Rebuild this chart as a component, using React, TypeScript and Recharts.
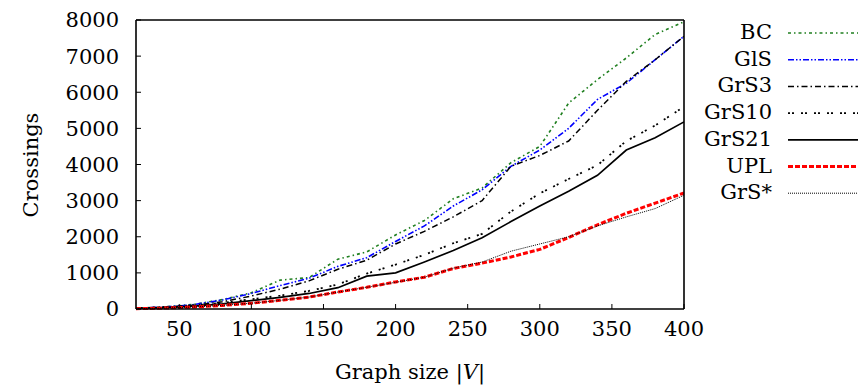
import { LineChart, Line, XAxis, YAxis, Label } from "recharts";

// graph sizes |V| and crossing counts per algorithm
const graphSize = [20, 40, 60, 80, 100, 120, 140, 160, 180, 200, 220, 240, 260, 280, 300, 320, 340, 360, 380, 400];
const bc = [20, 60, 130, 260, 450, 800, 870, 1380, 1580, 2050, 2450, 3050, 3350, 4050, 4500, 5700, 6350, 6950, 7600, 7950];
const gls = [20, 55, 120, 250, 430, 650, 850, 1180, 1420, 1870, 2300, 2850, 3300, 3950, 4400, 5000, 5800, 6250, 6900, 7550];
const grs3 = [20, 50, 100, 200, 360, 550, 780, 1100, 1350, 1800, 2150, 2550, 3000, 3950, 4250, 4650, 5500, 6300, 6900, 7550];
const grs10 = [20, 50, 100, 170, 270, 370, 500, 680, 980, 1230, 1500, 1820, 2080, 2700, 3200, 3600, 3980, 4650, 5080, 5600];
const grs21 = [15, 40, 80, 140, 230, 320, 430, 590, 910, 1000, 1300, 1620, 1970, 2420, 2850, 3260, 3700, 4400, 4740, 5180];
const upl = [10, 25, 55, 100, 160, 240, 330, 470, 600, 750, 880, 1120, 1270, 1440, 1650, 1980, 2330, 2650, 2930, 3210];
const grsStar = [10, 25, 55, 100, 160, 240, 330, 470, 600, 740, 880, 1130, 1300, 1600, 1800, 2000, 2300, 2550, 2780, 3150];

const xTicks = [50, 100, 150, 200, 250, 300, 350, 400];
const yTicks = [0, 1000, 2000, 3000, 4000, 5000, 6000, 7000, 8000];

const series = [
  { key: "BC", values: bc, color: "#1f7f1f", dash: "3 3 1.5 3", width: 1.6 },
  { key: "GlS", values: gls, color: "#0000ff", dash: "6 2 1.5 2 1.5 2", width: 1.6 },
  { key: "GrS3", values: grs3, color: "#000", dash: "6 3 1.5 3", width: 1.5 },
  { key: "GrS10", values: grs10, color: "#000", dash: "2 2 2 7", width: 1.8 },
  { key: "GrS21", values: grs21, color: "#000", dash: undefined, width: 1.7 },
  { key: "UPL", values: upl, color: "#ff0000", dash: "5 2", width: 3 },
  { key: "GrS*", values: grsStar, color: "#000", dash: "1 1", width: 1 },
];

const data = graphSize.map((x, i) => {
  const row: Record<string, number> = { x };
  series.forEach((s) => {
    row[s.key] = s.values[i];
  });
  return row;
});

const font = "'DejaVu Serif', serif";
const fs = 21;
const tickStyle = { fill: "#000", fontSize: fs, fontFamily: font };
const axisLine = { stroke: "#000", strokeWidth: 1.6 };

function LegendBox() {
  return (
    <svg width={860} height={391} style={{ position: "absolute", left: 0, top: 0, pointerEvents: "none" }}>
      {series.map((s, i) => {
        const y = 32 + i * 26.7;
        return (
          <g key={s.key}>
            <text x={772} y={y} textAnchor="end" dominantBaseline="central" fontFamily={font} fontSize={fs} fill="#000">
              {s.key}
            </text>
            <line x1={788} x2={858} y1={y + 1} y2={y + 1} stroke={s.color} strokeWidth={s.width} strokeDasharray={s.dash} />
          </g>
        );
      })}
    </svg>
  );
}

export default function App() {
  return (
    <div style={{ position: "absolute", left: 0, top: 0, width: 860, height: 391, background: "#fff" }}>
      <LineChart width={860} height={391} data={data} margin={{ top: 19, right: 175, left: 76, bottom: 52 }}>
        <XAxis
          dataKey="x"
          type="number"
          domain={[20, 400]}
          ticks={xTicks}
          allowDataOverflow
          height={30}
          tickSize={-5}
          tickMargin={17}
          tick={tickStyle}
          axisLine={axisLine}
          tickLine={{ stroke: "#000" }}
        >
          <Label
            content={() => (
              <text x={410} y={379} textAnchor="middle" fontFamily={font} fontSize={fs} fill="#000">
                Graph size |<tspan fontStyle="italic">V</tspan>|
              </text>
            )}
          />
        </XAxis>
        <XAxis
          xAxisId="top"
          orientation="top"
          type="number"
          domain={[20, 400]}
          ticks={xTicks}
          height={1}
          tickSize={-5}
          tick={false}
          axisLine={axisLine}
          tickLine={{ stroke: "#000" }}
        />
        <YAxis
          type="number"
          domain={[0, 8000]}
          ticks={yTicks}
          width={60}
          tickSize={-5}
          tickMargin={22}
          tick={tickStyle}
          axisLine={axisLine}
          tickLine={{ stroke: "#000" }}
        >
          <Label
            content={() => (
              <text
                x={31}
                y={165}
                textAnchor="middle"
                dominantBaseline="central"
                transform="rotate(-90 31 165)"
                fontFamily={font}
                fontSize={fs}
                fill="#000"
              >
                Crossings
              </text>
            )}
          />
        </YAxis>
        <YAxis
          yAxisId="right"
          orientation="right"
          type="number"
          domain={[0, 8000]}
          ticks={yTicks}
          width={1}
          tickSize={-5}
          tick={false}
          axisLine={axisLine}
          tickLine={{ stroke: "#000" }}
        />
        {series.map((s) => (
          <Line
            key={s.key}
            dataKey={s.key}
            stroke={s.color}
            strokeWidth={s.width}
            strokeDasharray={s.dash}
            dot={false}
            activeDot={false}
            type="linear"
            isAnimationActive={false}
          />
        ))}
      </LineChart>
      <LegendBox />
    </div>
  );
}
